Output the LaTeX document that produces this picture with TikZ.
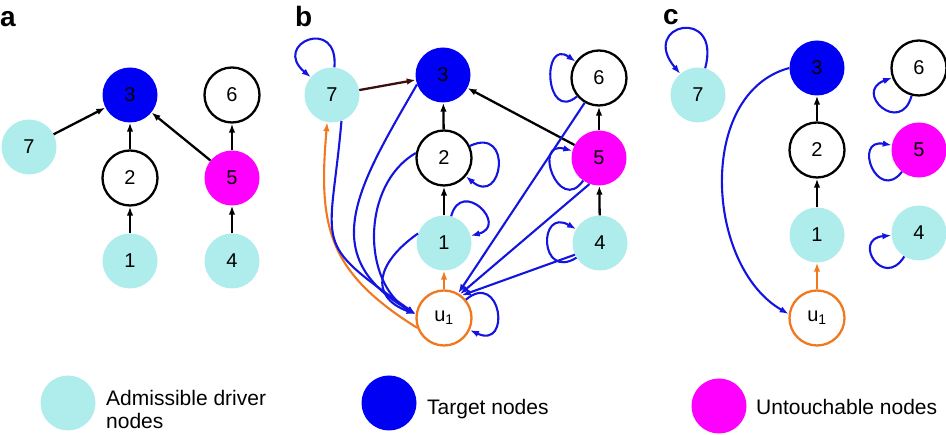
\documentclass[tikz,border=0pt]{standalone}
\usepackage{fontspec}
\setmainfont{Liberation Sans}
\usetikzlibrary{arrows.meta}
\definecolor{driver}{RGB}{175,236,236}
\definecolor{target}{RGB}{0,0,245}
\definecolor{untouch}{RGB}{255,0,255}
\definecolor{ctrl}{RGB}{240,120,30}
\definecolor{feed}{RGB}{20,20,225}
\definecolor{dark}{RGB}{60,15,15}
\begin{document}
\begin{tikzpicture}[x=1pt, y=1pt,
    vtx/.style={circle, minimum size=55pt, inner sep=0pt, font=\fontsize{20}{24}\selectfont},
    drv/.style={vtx, fill=driver},
    tgt/.style={vtx, fill=target},
    unt/.style={vtx, fill=untouch},
    plain/.style={vtx, draw=black, line width=2.3pt, fill=white},
    inp/.style={vtx, draw=ctrl, line width=2.3pt, fill=white},
    edge/.style={line width=2.3pt, -{Latex[length=9pt,width=6.5pt]}},
    back/.style={edge, draw=feed, line width=2.1pt},
    cnt/.style={edge, draw=ctrl, line width=2.1pt},
    panel/.style={anchor=base west, inner sep=0pt, font=\fontsize{28}{32}\selectfont\bfseries},
    key/.style={anchor=base west, inner sep=0pt, font=\fontsize{21}{23}\selectfont}]
    \useasboundingbox (0,0) rectangle (946,435);
    % panel a
    \node[panel] (la) at (0,408) {a};
    \node[tgt] (a3) at (130,340) {3};
    \node[plain] (a6) at (232,340) {6};
    \node[drv] (a7) at (29,288) {7};
    \node[plain] (a2) at (130,257) {2};
    \node[unt] (a5) at (232,257) {5};
    \node[drv] (a1) at (130,174) {1};
    \node[drv] (a4) at (232,174) {4};
    \draw[edge] (a1) -- (a2);
    \draw[edge] (a2) -- (a3);
    \draw[edge] (a4) -- (a5);
    \draw[edge] (a5) -- (a6);
    \draw[edge] (a5) -- (a3);
    \draw[edge] (a7) -- (a3);
    % panel b
    \node[panel] (lb) at (295,408) {b};
    \node[drv] (b7) at (332,340) {7};
    \node[tgt] (b3) at (443,360) {3};
    \node[plain] (b6) at (599,357) {6};
    \node[plain] (b2) at (444,277) {2};
    \node[unt] (b5) at (599,277) {5};
    \node[drv] (b1) at (444,192) {1};
    \node[drv] (b4) at (600,192) {4};
    \node[inp] (bu) at (444,117) {u\textsubscript{1}};
    \draw[edge] (b1) -- (b2);
    \draw[edge] (b2) -- (b3);
    \draw[edge] (b4) -- (b5);
    \draw[edge] (b5) -- (b6);
    \draw[edge] (b5) -- (b3);
    \draw[edge, draw=dark] (b7) -- (b3);
    \draw[cnt] (bu) -- (b1);
    \draw[cnt] (bu.200) to[out=148, in=-95, looseness=1.2] (b7.-100);
    \draw[back] (b7.-70) to[out=-95, in=145, looseness=1.6] (bu.172);
    \draw[back] (b3.200) to[out=240, in=150, looseness=1.3] (bu.172);
    \draw[back] (b2.170) to[out=210, in=150] (bu.172);
    \draw[back] (b1.160) to[out=215, in=160, looseness=1.6] (bu.172);
    \draw[back] (b6.240) -- (bu.60);
    \draw[back] (b5.250) -- (bu.56);
    \draw[back] (b4.205) -- (bu.52);
    % self loops
    \draw[back] (b7.85) to[out=85, in=140, distance=52pt] (b7.140);
    \draw[back] (b2.25) to[out=25, in=-40, distance=48pt] (b2.-40);
    \draw[back] (b1.75) to[out=75, in=15, distance=40pt] (b1.15);
    \draw[back] (bu.40) to[out=40, in=-25, distance=46pt] (bu.-25);
    \draw[back] (b5.235) to[out=235, in=165, distance=42pt] (b5.165);
    \draw[back] (b6.220) to[out=220, in=145, distance=42pt] (b6.145);
    \draw[back] (b4.212) to[out=212, in=150, distance=44pt] (b4.150);
    % panel c
    \node[panel] (lc) at (663,410) {c};
    \node[drv] (c7) at (698,340) {7};
    \node[tgt] (c3) at (817,367) {3};
    \node[plain] (c6) at (919,367) {6};
    \node[plain] (c2) at (817,285) {2};
    \node[unt] (c5) at (919,285) {5};
    \node[drv] (c1) at (817,200) {1};
    \node[drv] (c4) at (919,202) {4};
    \node[inp] (cu) at (817,117) {u\textsubscript{1}};
    \draw[edge] (c1) -- (c2);
    \draw[edge] (c2) -- (c3);
    \draw[cnt] (cu) -- (c1);
    \draw[back] (c3.180) to[out=195, in=150] (cu.172);
    \draw[back] (c7.75) to[out=75, in=130, distance=65pt] (c7.130);
    \draw[back] (c6.255) to[out=255, in=200, distance=42pt] (c6.200);
    \draw[back] (c5.232) to[out=232, in=170, distance=40pt] (c5.170);
    \draw[back] (c4.238) to[out=238, in=185, distance=40pt] (c4.185);
    % legend
    \node[drv] (k1) at (68,32) {};
    \node[key, align=left, anchor=west] (t1) at (106,25) {Admissible driver\\nodes};
    \node[tgt] (k2) at (389,32) {};
    \node[key] (t2) at (427,20) {Target nodes};
    \node[unt] (k3) at (719,29) {};
    \node[key] (t3) at (756,20) {Untouchable nodes};
\end{tikzpicture}
\end{document}
